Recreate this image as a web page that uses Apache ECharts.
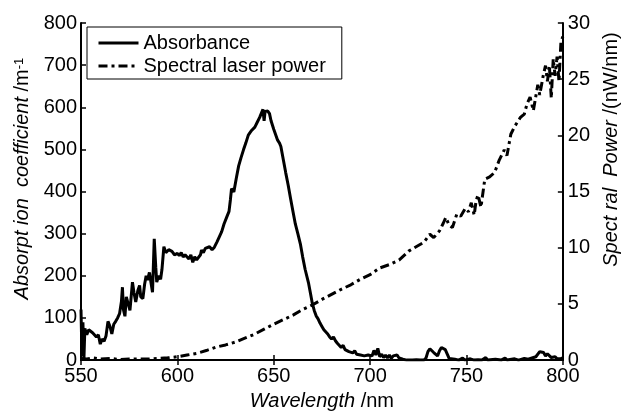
<!DOCTYPE html>
<html>
<head>
<meta charset="utf-8">
<script src="https://cdn.jsdelivr.net/npm/echarts@6/dist/echarts.min.js"></script>
<style>
  html, body { margin: 0; padding: 0; background: #fff; }
  #chart { width: 629px; height: 416px; }
</style>
</head>
<body>
<div id="chart"></div>
<script>
// absorbance (left axis, m^-1)
const absWl = [550, 550.5, 551, 551.5, 552, 553, 554, 555, 556, 557, 558, 559, 560, 561, 562, 563, 564, 565, 566, 567, 568, 569, 570, 571, 571.5, 572, 572.8, 573.5, 574.5, 575.4, 576.7, 577.5, 578.4, 579.5, 580.4, 581, 582.1, 583, 583.8, 584.5, 585.5, 586.5, 587.1, 588, 588.8, 589.3, 590.3, 591.3, 592, 593, 594, 594.7, 595.5, 596.5, 597.2, 598.5,
  600, 601, 602, 603, 604, 605, 606, 607, 608, 609, 610, 611, 612, 612.5, 613.5, 614.5, 615.5, 616.7, 617.5, 618, 619.2, 620.5, 621.7, 623, 624.2, 625.5, 626.8, 627.5, 628.1, 629.3, 630.5, 631.8, 633, 634.3, 635.5, 636.8, 638.5, 640.2, 641.5, 642.7, 643.5, 644.4, 645, 645.5, 646.9, 647.8, 648.6,
  650, 651, 652, 653, 653.7, 655, 656.2, 657.5, 658.7, 660, 661.2, 662.5, 663.8, 665, 666.3, 668, 669, 670, 671, 672, 673, 674, 675, 676, 677, 678, 679, 680, 681, 682, 683, 684, 685, 686, 687, 688, 689, 690, 691, 692, 693, 694, 695, 696, 697, 698, 699,
  700, 701, 702, 703, 704, 705, 706, 707, 708, 709, 710, 711, 712, 713, 714, 715, 716, 717, 718, 719, 720, 722, 724, 726, 728, 729, 730, 731, 732, 733, 734, 735, 736, 737, 738, 739, 740, 741, 742, 744, 746, 748, 749,
  752, 754, 756, 758, 760, 761, 765, 768, 770, 771, 775, 777, 780, 782, 784, 786, 788, 789, 790, 791, 792, 793, 794, 795, 796, 797, 798, 799, 800];
const absorbance = [120, 10, 90, 0, 75, 60, 72, 68, 65, 62, 55, 60, 38, 50, 45, 58, 92, 80, 62, 85, 92, 100, 110, 140, 173, 120, 104, 150, 146, 118, 185, 160, 138, 165, 177, 150, 146, 180, 200, 190, 208, 205, 161, 288, 220, 185, 200, 192, 215, 269, 255, 254, 262, 258, 258, 250,
  253, 248, 255, 245, 250, 246, 240, 250, 232, 245, 238, 236, 250, 261, 255, 265, 262, 269, 272, 262, 268, 280, 292, 305, 323, 338, 353, 380, 407, 399, 430, 461, 480, 499, 515, 534, 545, 553, 565, 576, 585, 595, 568, 590, 591, 585, 568,
  548, 535, 522, 515, 507, 475, 445, 415, 384, 352, 323, 300, 276, 245, 215, 184, 160, 135, 118, 105, 98, 88, 80, 72, 76, 62, 55, 50, 55, 46, 40, 36, 30, 35, 25, 28, 20, 23, 17, 22, 14, 18, 12, 16, 10, 14, 12,
  15, 10, 23, 12, 28, 8, 14, 6, 12, 5, 12, 4, 10, 6, 12, 5, 8, 2, 3, 0, 2, 0, 1, 0, 0, 5, 20, 27, 24, 18, 15, 10, 22, 30, 31, 25, 28, 4, 0, 2, 0, 5, 0,
  3, 0, 1, 0, 6, 0, 2, 0, 5, 0, 3, 0, 4, 2, 5, 8, 20, 23, 18, 10, 15, 12, 6, 10, 8, 3, 6, 4, 5];

// spectral laser power (right axis, nW/nm)
const powWl = [550, 553, 556, 560, 565, 570, 575, 580, 585, 590, 595, 600, 605, 610, 615, 620, 625, 630, 635, 640, 645, 650, 655, 660, 665, 670, 675, 680, 685, 690, 695, 700, 705, 710, 715, 720, 725, 728, 731, 733, 736, 738, 739.3, 741, 742.7, 745, 747, 749.4, 751, 752.5, 754, 755, 756, 757.5, 759.5, 762, 764.6, 767, 769.6, 771, 773, 775, 778, 780, 781.4, 783, 784.7, 786, 787, 788, 789.8, 791, 792, 793, 794, 795, 796, 797, 798, 799, 800];
const laserPower = [0.15, 0.1, 0.2, 0.1, 0.15, 0.05, 0.1, 0.1, 0.1, 0.15, 0.2, 0.3, 0.45, 0.6, 0.85, 1.15, 1.35, 1.6, 1.95, 2.3, 2.75, 3.2, 3.6, 4.0, 4.5, 4.9, 5.4, 5.85, 6.3, 6.7, 7.2, 7.6, 8.2, 8.5, 8.9, 9.7, 10.2, 10.5, 11.2, 10.9, 11.5, 12.2, 12.7, 12.0, 11.8, 13.0, 12.8, 13.5, 13.2, 14.0, 12.9, 14.2, 14.7, 13.6, 16.1, 16.3, 16.7, 17.8, 18.7, 18.2, 20.1, 20.8, 21.6, 21.9, 22.8, 23.4, 22.2, 23.5, 24.5, 23.6, 25.3, 26.2, 24.8, 26.2, 23.3, 26.8, 25.3, 27.0, 24.8, 28.3, 28.8];

const font = 'Liberation Sans';

let chart = echarts.init(document.getElementById('chart'));

let axisCommon = {
  axisLine: { show: true, lineStyle: { color: '#000', width: 2 } },
  axisTick: { show: true, inside: true, length: 5, lineStyle: { color: '#000', width: 1.5 } },
  splitLine: { show: false },
  axisLabel: { color: '#000', fontSize: 20, fontFamily: font }
};

let option = {
  animation: false,
  backgroundColor: '#fff',
  grid: { left: 81, right: 52, top: 23, bottom: 46 },
  legend: {
    orient: 'vertical',
    left: 87,
    top: 27,
    padding: [5, 16, 2, 10],
    borderColor: '#000',
    borderWidth: 1,
    borderRadius: 0,
    itemWidth: 40,
    itemHeight: 14,
    itemGap: 1,
    itemStyle: { opacity: 0 }, // hide the symbol, keep only the line sample
    lineStyle: { width: 3 },
    textStyle: { color: '#000', fontSize: 20, fontFamily: font, lineHeight: 22 },
    data: ['Absorbance', 'Spectral laser power']
  },
  xAxis: [
    {
      ...axisCommon,
      type: 'value', position: 'bottom', min: 550, max: 800, interval: 50,
      axisLabel: { ...axisCommon.axisLabel, margin: 6 },
      name: '{i|Wavelength} /nm',
      nameLocation: 'middle',
      nameGap: 20,
      nameTextStyle: {
        color: '#000', fontSize: 20, fontFamily: font,
        rich: { i: { fontStyle: 'italic', fontSize: 20, fontFamily: font, color: '#000' } }
      }
    },
    {
      ...axisCommon,
      type: 'value', position: 'top', min: 550, max: 800, interval: 50,
      axisLabel: { show: false }
    }
  ],
  yAxis: [
    {
      ...axisCommon,
      type: 'value', position: 'left', min: 0, max: 800, interval: 100,
      axisLabel: { ...axisCommon.axisLabel, margin: 4 },
      name: '{i|Absorpt ion  coefficient} /m{s|-1}',
      nameLocation: 'middle',
      nameRotate: 90,
      nameGap: 43,
      nameTextStyle: {
        color: '#000', fontSize: 20, fontFamily: font,
        padding: [0, 0, 0, 26],
        rich: {
          i: { fontStyle: 'italic', fontSize: 20, fontFamily: font, color: '#000' },
          s: { fontSize: 13, fontFamily: font, color: '#000', verticalAlign: 'top' }
        }
      }
    },
    {
      ...axisCommon,
      type: 'value', position: 'right', min: 0, max: 30, interval: 5,
      axisLabel: { ...axisCommon.axisLabel, margin: 5 },
      name: '{i|Spect ral  Power} /(nW/nm)',
      nameLocation: 'middle',
      nameRotate: 90,
      nameGap: 27,
      nameTextStyle: {
        color: '#000', fontSize: 20, fontFamily: font,
        padding: [0, 0, 0, 84],
        rich: { i: { fontStyle: 'italic', fontSize: 20, fontFamily: font, color: '#000' } }
      }
    }
  ],
  series: [
    {
      name: 'Absorbance',
      type: 'line',
      xAxisIndex: 0,
      yAxisIndex: 0,
      showSymbol: false,
      symbol: 'none',
      lineStyle: { color: '#000', width: 3 },
      itemStyle: { color: '#000' },
      data: absWl.map((w, i) => [w, absorbance[i]])
    },
    {
      name: 'Spectral laser power',
      type: 'line',
      xAxisIndex: 0,
      yAxisIndex: 1,
      showSymbol: false,
      symbol: 'none',
      lineStyle: { color: '#000', width: 3, type: [9, 4, 3, 4] },
      itemStyle: { color: '#000' },
      data: powWl.map((w, i) => [w, laserPower[i]])
    }
  ]
};

chart.setOption(option);
</script>
</body>
</html>
